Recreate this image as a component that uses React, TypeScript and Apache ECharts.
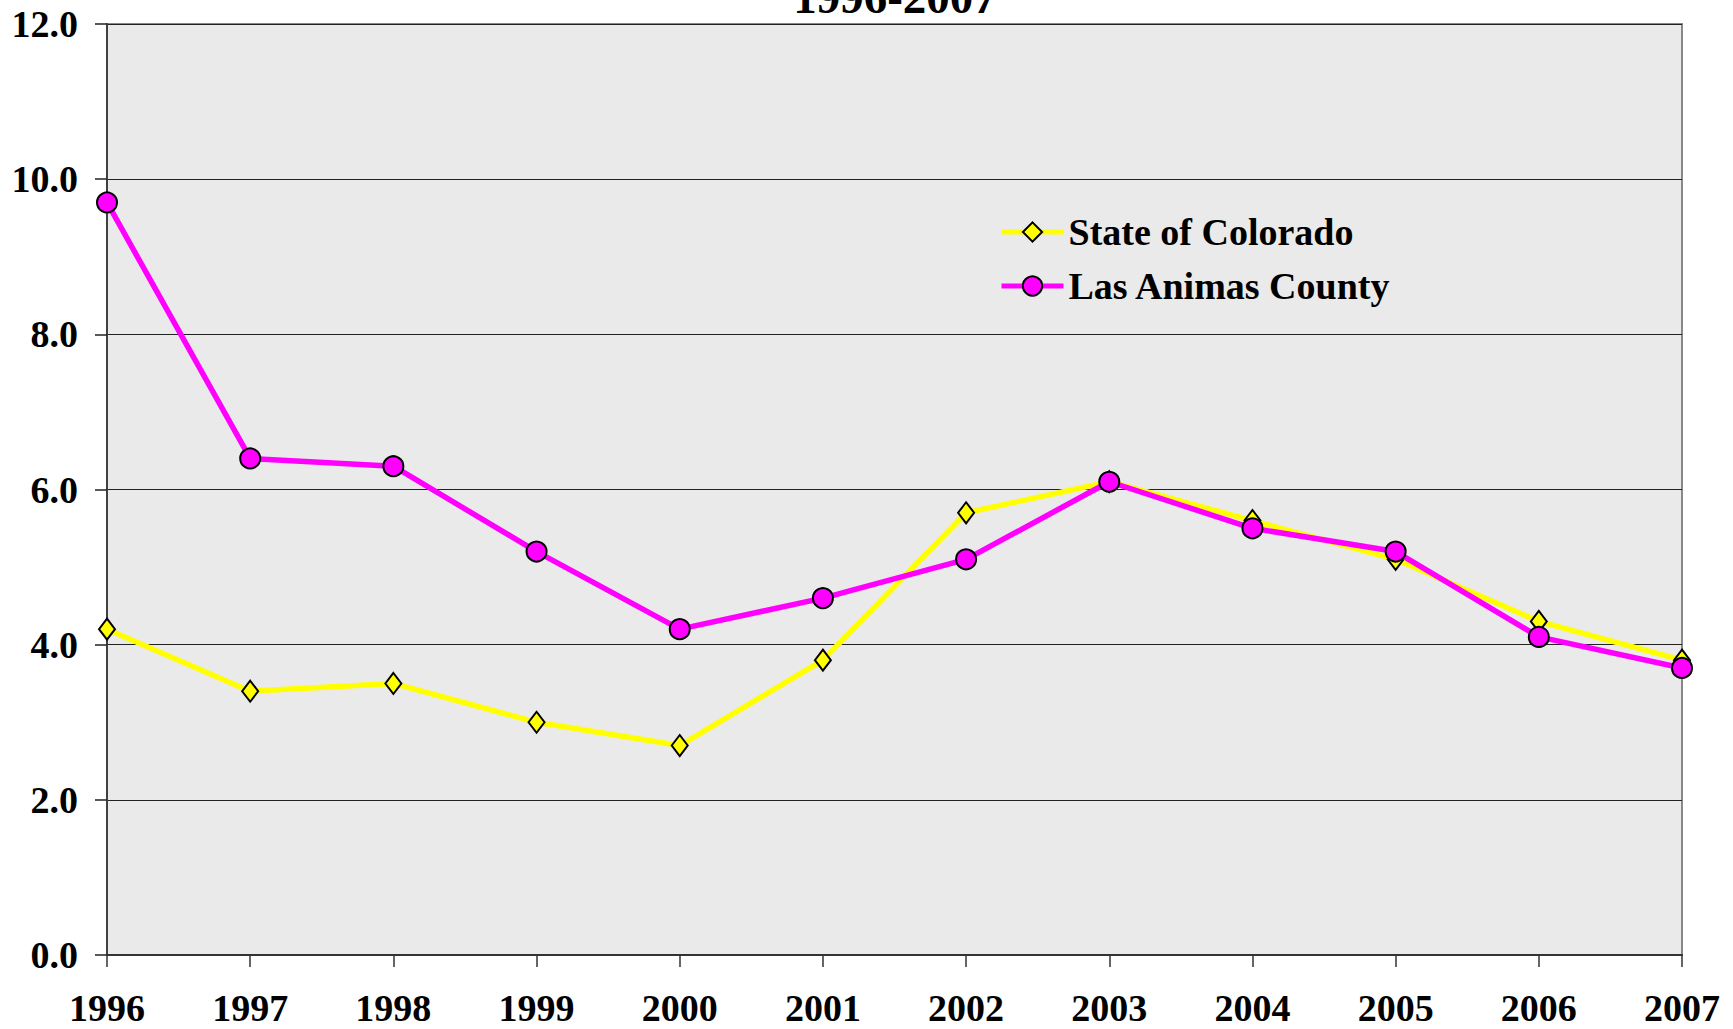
import React, { useEffect, useRef } from "react";
import * as echarts from "echarts";

const years = ["1996", "1997", "1998", "1999", "2000", "2001", "2002", "2003", "2004", "2005", "2006", "2007"];
const colorado = [4.2, 3.4, 3.5, 3.0, 2.7, 3.8, 5.7, 6.1, 5.6, 5.1, 4.3, 3.8];
const lasAnimas = [9.7, 6.4, 6.3, 5.2, 4.2, 4.6, 5.1, 6.1, 5.5, 5.2, 4.1, 3.7];
const seriesNames = ["State of Colorado", "Las Animas County"];
const titleText = "1996-2007";

const FONT = "Liberation Serif";

export default function App() {
  const ref = useRef<HTMLDivElement>(null);
  useEffect(() => {
    if (!ref.current) return;
    const chart = echarts.init(ref.current, null, { renderer: "svg" });
    chart.setOption({
      animation: false,
      backgroundColor: "#ffffff",
      graphic: [
        {
          type: "text",
          x: 895,
          y: 20,
          z: 100,
          style: {
            text: titleText,
            font: `bold 47px "${FONT}"`,
            fill: "#000",
            textAlign: "center",
            textVerticalAlign: "bottom",
          },
        },
      ],
      grid: {
        left: 107,
        right: 51,
        top: 24,
        bottom: 74,
        show: true,
        backgroundColor: "#eaeaea",
        borderColor: "#888888",
        borderWidth: 2,
      },
      legend: {
        orient: "vertical",
        left: 999,
        top: 212,
        padding: 0,
        itemWidth: 62,
        itemHeight: 24,
        itemGap: 14,
        data: seriesNames,
        lineStyle: { width: 5 },
        textStyle: {
          fontFamily: FONT,
          fontWeight: "bold",
          fontSize: 38,
          color: "#000",
          lineHeight: 40,
        },
      },
      xAxis: {
        type: "category",
        data: years,
        boundaryGap: false,
        axisLine: { show: true, lineStyle: { color: "#333", width: 2 } },
        axisTick: { show: true, length: 12, lineStyle: { color: "#333", width: 1.5 } },
        axisLabel: {
          fontFamily: FONT,
          fontWeight: "bold",
          fontSize: 38,
          color: "#000",
          margin: 34,
        },
        splitLine: { show: false },
      },
      yAxis: {
        type: "value",
        min: 0,
        max: 12,
        interval: 2,
        axisLine: { show: true, lineStyle: { color: "#404040", width: 2 } },
        axisTick: { show: true, length: 12, lineStyle: { color: "#222", width: 1.5 } },
        axisLabel: {
          fontFamily: FONT,
          fontWeight: "bold",
          fontSize: 38,
          color: "#000",
          margin: 29,
          formatter: (v: number) => v.toFixed(1),
        },
        splitLine: { show: true, lineStyle: { color: "#222", width: 1 } },
      },
      series: [
        {
          name: seriesNames[0],
          type: "line",
          data: colorado,
          symbol: "diamond",
          symbolSize: [16, 21],
          lineStyle: { color: "#ffff00", width: 5.5 },
          itemStyle: { color: "#ffff00", borderColor: "#000", borderWidth: 2 },
          z: 2,
        },
        {
          name: seriesNames[1],
          type: "line",
          data: lasAnimas,
          symbol: "circle",
          symbolSize: 20,
          lineStyle: { color: "#ff00ff", width: 5.5 },
          itemStyle: { color: "#ff00ff", borderColor: "#000", borderWidth: 2 },
          z: 3,
        },
      ],
    });
    return () => chart.dispose();
  }, []);
  return (
    <div
      ref={ref}
      style={{ position: "fixed", left: 0, top: 0, width: 1733, height: 1029 }}
    />
  );
}
